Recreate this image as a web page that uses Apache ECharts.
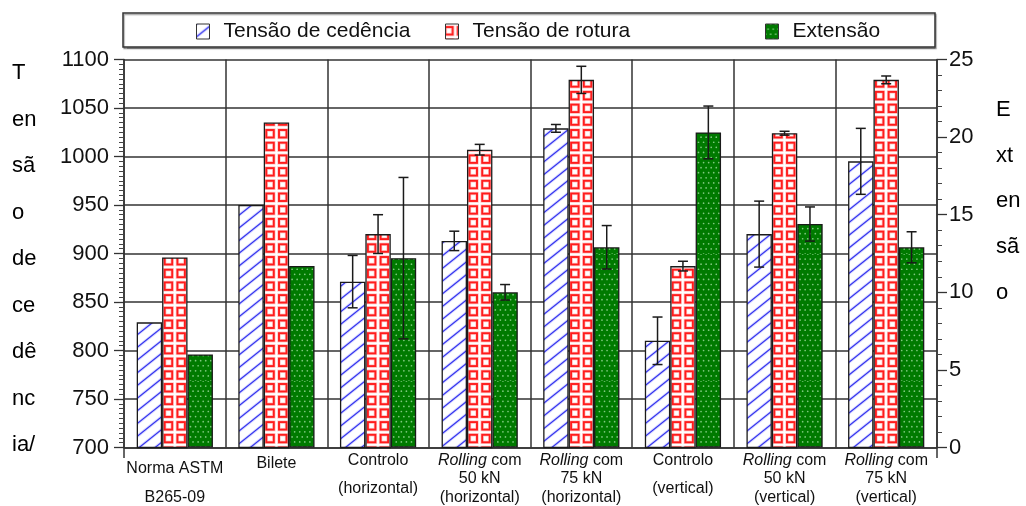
<!DOCTYPE html>
<html>
<head>
<meta charset="utf-8">
<style>
  html, body { margin: 0; padding: 0; background: #fff; }
  #chart { width: 1026px; height: 506px; }
</style>
<script src="https://cdn.jsdelivr.net/npm/echarts@6/dist/echarts.min.js"></script>
</head>
<body>
<div id="chart"></div>
<script>
// ---- data ----
const categories = [
  'Norma ASTM\nB265-09',
  'Bilete',
  'Controlo\n(horizontal)',
  'Rolling com\n50 kN\n(horizontal)',
  'Rolling com\n75 kN\n(horizontal)',
  'Controlo\n(vertical)',
  'Rolling com\n50 kN\n(vertical)',
  'Rolling com\n75 kN\n(vertical)'
];
const seriesNames = ['Tensão de cedência', 'Tensão de rotura', 'Extensão'];

const yieldStress      = [829, 950, 871, 913, 1029, 810, 920, 995];
const yieldStressErr   = [0, 0, 27, 10, 4, 24.5, 34, 34];
const tensileStress    = [896, 1035, 920, 1007, 1079, 887, 1024, 1079];
const tensileStressErr = [0, 0, 20, 5.5, 14, 5, 2, 4];
const elongation       = [6.0, 11.7, 12.2, 10.0, 12.9, 20.3, 14.4, 12.9];
const elongationErr    = [0, 0, 5.2, 0.5, 1.4, 1.7, 1.1, 1.0];

const stressAxis = { min: 700, max: 1100, interval: 50 };
const elongAxis  = { min: 0, max: 25, interval: 5 };

const stressTitleLines = ['T', 'en', 'sã', 'o', 'de', 'ce', 'dê', 'nc', 'ia/'];
const elongTitleLines  = ['E', 'xt', 'en', 'sã', 'o'];

// ---- fill patterns ----
const FONT = '"Liberation Sans", Arial, sans-serif';
const TILE = 127, PITCH = 12.7;

function makeTile(draw) {
  const c = document.createElement('canvas');
  c.width = TILE; c.height = TILE;
  draw(c.getContext('2d'));
  return c;
}

// white with thin blue "/" hatching
const hatchTile = makeTile(ctx => {
  ctx.fillStyle = '#fff';
  ctx.fillRect(0, 0, TILE, TILE);
  [[3, 'rgba(170,170,255,0.45)'], [1.2, '#3434ee']].forEach(([w, col]) => {
    ctx.strokeStyle = col; ctx.lineWidth = w;
    ctx.beginPath();
    for (let k = -2; k <= 20; k++) {
      const c0 = k * PITCH;
      ctx.moveTo(-2, c0 + 1.6);
      ctx.lineTo(TILE + 2, c0 - 0.8 * (TILE + 2));
    }
    ctx.stroke();
  });
});

// white with hollow red squares
const squareTile = makeTile(ctx => {
  ctx.fillStyle = '#fff';
  ctx.fillRect(0, 0, TILE, TILE);
  for (let i = -1; i <= 10; i++) {
    for (let j = -1; j <= 10; j++) {
      const x = i * PITCH - 1.4, y = j * PITCH + 2;
      ctx.strokeStyle = 'rgba(255,150,150,0.55)'; ctx.lineWidth = 3.4;
      ctx.strokeRect(x + 1, y + 1, 7.5, 7.5);
      ctx.strokeStyle = '#ff1c1c'; ctx.lineWidth = 1.9;
      ctx.strokeRect(x + 1, y + 1, 7.5, 7.5);
    }
  }
});

// dark green with light dots
const dotTile = makeTile(ctx => {
  ctx.fillStyle = '#007a00';
  ctx.fillRect(0, 0, TILE, TILE);
  const p = TILE / 25;
  ctx.fillStyle = 'rgba(150,215,150,0.85)';
  for (let j = 0; j <= 25; j++) {
    for (let i = -1; i <= 25; i++) {
      const x = i * p + (j % 2 ? p / 2 : 0), y = j * p;
      ctx.beginPath();
      ctx.arc(x, y, 0.85, 0, Math.PI * 2);
      ctx.fill();
    }
  }
});

// ---- helpers ----
function labelFormatter(value) {
  const lines = value.split('\n');
  let styles;
  if (lines.length === 3) styles = ['l3', 'l3', 'l3'];
  else if (lines.length === 1) styles = ['l1'];
  else if (lines[0].indexOf('Norma') === 0) styles = ['na', 'nb'];
  else styles = ['ca', 'cb'];
  return lines.map((ln, i) => {
    const s = styles[i];
    if (ln.indexOf('Rolling') === 0) {
      return '{' + s + 'i|Rolling}{' + s + '|' + ln.slice(7) + '}';
    }
    return '{' + s + '|' + ln + '}';
  }).join('\n');
}

function richStyle(lh, italic) {
  return { fontSize: 16, fontFamily: FONT, color: '#111', lineHeight: lh, fontStyle: italic ? 'italic' : 'normal' };
}

function errorSeries(values, errs, slot, yAxisIndex) {
  return {
    type: 'custom',
    yAxisIndex: yAxisIndex,
    z: 6,
    silent: true,
    data: values.map((v, i) => [i, v, errs[i]]).filter(d => d[2] > 0),
    renderItem(params, api) {
      const i = api.value(0), v = api.value(1), e = api.value(2);
      const band = api.size([1, 0])[0];
      const barW = band * 0.75 / 3;
      const x = api.coord([i, v])[0] + (slot - 1) * barW;
      const yHi = api.coord([i, v + e])[1];
      const yLo = api.coord([i, v - e])[1];
      const cap = 5;
      const style = { stroke: '#1a1a1a', lineWidth: 1.5 };
      return {
        type: 'group',
        children: [
          { type: 'line', shape: { x1: x, y1: yHi, x2: x, y2: yLo }, style },
          { type: 'line', shape: { x1: x - cap, y1: yHi, x2: x + cap, y2: yHi }, style },
          { type: 'line', shape: { x1: x - cap, y1: yLo, x2: x + cap, y2: yLo }, style }
        ]
      };
    }
  };
}

const AXIS_COLOR = '#333';
const legendCommon = {
  top: 16,
  icon: 'rect',
  itemWidth: 13,
  itemHeight: 15,
  selectedMode: false,
  itemStyle: { borderColor: '#333', borderWidth: 1 },
  textStyle: { fontSize: 21, fontFamily: FONT, color: '#111', padding: [0, 0, 0, 9] }
};

const chart = echarts.init(document.getElementById('chart'), null, { renderer: 'canvas' });

chart.setOption({
  animation: false,
  backgroundColor: '#fff',
  grid: { left: 124, top: 59.5, width: 813, height: 388 },
  legend: [
    Object.assign({ left: 191, data: [seriesNames[0]] }, legendCommon),
    Object.assign({ left: 440, data: [seriesNames[1]] }, legendCommon),
    Object.assign({ left: 760, data: [seriesNames[2]] }, legendCommon)
  ],
  xAxis: {
    type: 'category',
    data: categories,
    axisLine: { lineStyle: { color: AXIS_COLOR, width: 1.5 } },
    axisTick: { show: false },
    splitLine: { show: true, interval: 0, lineStyle: { color: AXIS_COLOR, width: 1.5 } },
    axisLabel: {
      interval: 0,
      margin: 3.5,
      hideOverlap: false,
      formatter: labelFormatter,
      rich: {
        l3: richStyle(18.5), l3i: richStyle(18.5, true),
        l1: richStyle(26),
        na: richStyle(36), nb: richStyle(22),
        ca: richStyle(20), cb: richStyle(36)
      }
    }
  },
  yAxis: [
    {
      type: 'value',
      position: 'left',
      min: stressAxis.min, max: stressAxis.max, interval: stressAxis.interval,
      axisLine: { show: true, lineStyle: { color: AXIS_COLOR, width: 1.5 } },
      axisTick: { show: true, length: 10, lineStyle: { color: AXIS_COLOR, width: 1.3 } },
      minorTick: { show: true, splitNumber: 10, length: 5, lineStyle: { color: '#444', width: 1 } },
      splitLine: { show: true, lineStyle: { color: AXIS_COLOR, width: 1.5 } },
      axisLabel: { margin: 15, fontSize: 22, fontFamily: FONT, color: '#111', formatter: v => String(v) }
    },
    {
      type: 'value',
      position: 'right',
      min: elongAxis.min, max: elongAxis.max, interval: elongAxis.interval,
      axisLine: { show: true, lineStyle: { color: AXIS_COLOR, width: 1.5 } },
      axisTick: { show: true, length: 10, lineStyle: { color: AXIS_COLOR, width: 1.3 } },
      minorTick: { show: true, splitNumber: 5, length: 5, lineStyle: { color: '#444', width: 1 } },
      splitLine: { show: false },
      axisLabel: { margin: 12, fontSize: 22, fontFamily: FONT, color: '#111', formatter: v => String(v) }
    }
  ],
  series: [
    {
      name: seriesNames[0], type: 'bar', yAxisIndex: 0, data: yieldStress,
      barGap: '0%', barCategoryGap: '25%', z: 3,
      itemStyle: { color: { image: hatchTile, repeat: 'repeat' }, borderColor: '#1a1a1a', borderWidth: 1.3 }
    },
    {
      name: seriesNames[1], type: 'bar', yAxisIndex: 0, data: tensileStress,
      barGap: '0%', barCategoryGap: '25%', z: 3,
      itemStyle: { color: { image: squareTile, repeat: 'repeat' }, borderColor: '#1a1a1a', borderWidth: 1.3 }
    },
    {
      name: seriesNames[2], type: 'bar', yAxisIndex: 1, data: elongation,
      barGap: '0%', barCategoryGap: '25%', z: 3,
      itemStyle: { color: { image: dotTile, repeat: 'repeat' }, borderColor: '#1a1a1a', borderWidth: 1.3 }
    },
    errorSeries(yieldStress, yieldStressErr, 0, 0),
    errorSeries(tensileStress, tensileStressErr, 1, 0),
    errorSeries(elongation, elongationErr, 2, 1)
  ],
  graphic: [
    {
      type: 'rect', z: -1,
      shape: { x: 123, y: 13, width: 812, height: 34 },
      style: { fill: '#fff', stroke: '#333', lineWidth: 1.5, shadowColor: 'rgba(0,0,0,0.35)', shadowOffsetX: 1, shadowOffsetY: 1.5, shadowBlur: 1 }
    },
    {
      type: 'text', left: 12, top: 50,
      style: { text: stressTitleLines.join('\n'), font: '22px ' + FONT, fill: '#000', lineHeight: 46.5 }
    },
    {
      type: 'text', left: 996, top: 87,
      style: { text: elongTitleLines.join('\n'), font: '22px ' + FONT, fill: '#000', lineHeight: 45.75 }
    },
    { type: 'line', shape: { x1: 124, y1: 447.5, x2: 124, y2: 458 }, style: { stroke: AXIS_COLOR, lineWidth: 1.5 } },
    { type: 'line', shape: { x1: 937, y1: 447.5, x2: 937, y2: 458 }, style: { stroke: AXIS_COLOR, lineWidth: 1.5 } }
  ]
});
</script>
</body>
</html>
